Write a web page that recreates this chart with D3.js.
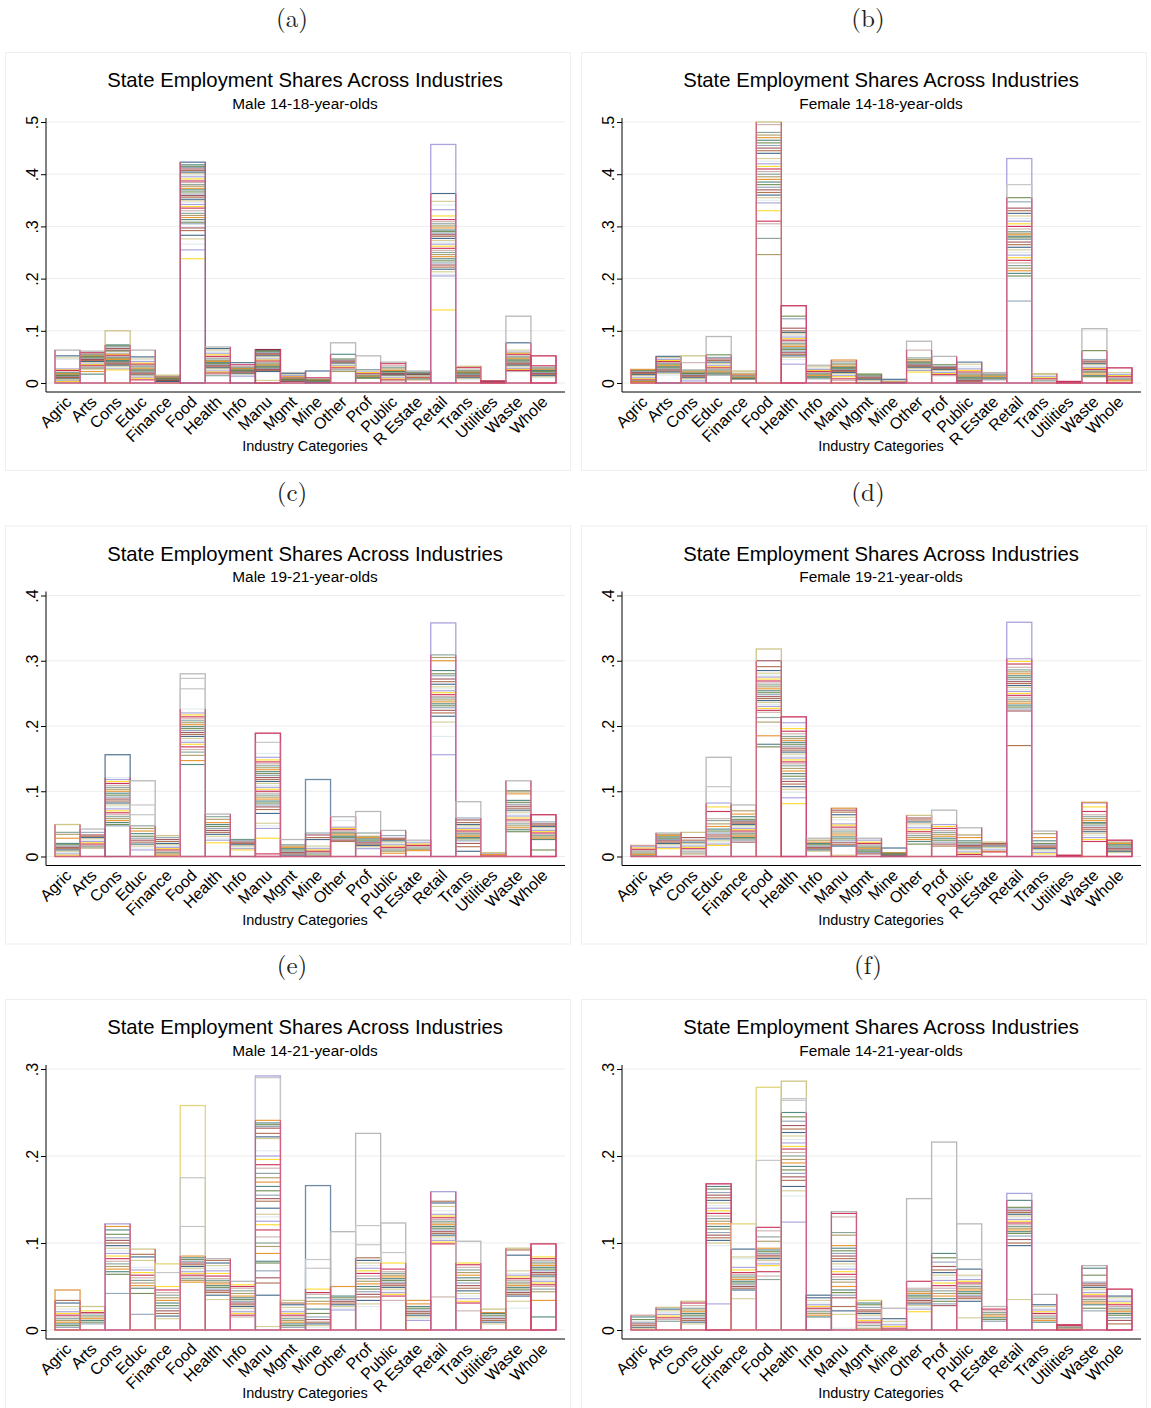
<!DOCTYPE html>
<html><head><meta charset="utf-8">
<script src="https://cdn.jsdelivr.net/npm/d3@7"></script>
<style>body{margin:0;background:#fff}</style>
</head><body>
<svg id="fig" width="1151" height="1408"></svg>
<script>
// Industry categories on the x axis
const categories = ["Agric","Arts","Cons","Educ","Finance","Food","Health","Info","Manu","Mgmt",
  "Mine","Other","Prof","Public","R Estate","Retail","Trans","Utilities","Waste","Whole"];

// State employment shares, in thousandths, one list per industry (one entry per state)
const male1418 = [
  [63,52,48,45,27,25,24,21,20,18,17,15,14,12,11,10,8,7,5,4,3],
  [61,58,56,55,53,51,50,48,46,45,43,41,39,38,36,35,33,31,29,27,22,17],
  [100,73,71,69,66,63,61,60,58,56,55,53,51,49,47,45,43,41,40,38,36,34,32,30,27,25],
  [63,50,46,44,41,38,36,34,32,29,27,25,23,21,19,17,15,14,13,11,9,6],
  [15,13,12,11,10,9,8,7,6,5,4,3],
  [423,418,415,413,410,407,404,401,398,395,391,387,384,380,377,373,370,366,362,359,356,352,349,346,342,338,335,330,325,321,317,313,308,305,297,292,283,276,266,255,238],
  [69,66,63,60,57,54,51,48,46,43,41,39,37,35,33,31,29,27,25,23,21,19,17,14],
  [39,35,32,30,28,27,25,24,22,21,19,18,17,15,13],
  [64,62,60,58,56,54,52,50,48,46,44,42,40,38,36,34,32,30,28,26,24,22,5],
  [20,18,16,15,14,12,11,10,9,8,7,6,5,4,3],
  [23,10,8,7,6,5,4,3,2,1],
  [77,55,46,44,42,40,38,36,35,33,31,29,27,25,22],
  [52,25,24,23,21,20,18,17,15,14,12,11,9],
  [40,37,33,30,27,24,22,21,19,18,16,15,13,12,10,8,6,4],
  [23,21,19,18,17,16,15,14,13,12,11,10,9,8,6],
  [457,363,348,341,332,320,313,309,305,301,297,293,290,287,284,281,277,273,270,266,262,258,254,250,246,242,238,234,230,226,222,218,213,208,205,140],
  [32,30,27,24,22,20,19,17,16,14,12,10,8,6],
  [4,3,3,2,2,1],
  [128,77,63,61,59,57,55,52,50,48,46,44,42,40,38,36,34,32,30,28,26,24,22],
  [52,33,31,29,27,25,24,22,20,18,16,14,12,10]
];
const female1418 = [
  [26,24,22,20,18,16,14,12,10,8,6,5,4,3,2],
  [51,49,47,45,43,41,39,37,35,33,31,29,27,25,23,21,18,15],
  [52,39,25,23,21,19,18,16,14,12,10,8,6,4],
  [89,54,49,46,43,40,37,35,33,31,29,27,25,23,21,19,17,15],
  [23,21,19,18,17,15,14,13,11,10,9,8,7],
  [500,495,480,475,470,465,460,455,450,445,440,430,425,420,415,410,405,400,395,390,385,380,375,370,365,360,355,350,345,330,310,305,277,246],
  [148,128,123,105,100,97,94,91,88,85,82,79,76,73,70,67,64,61,58,55,52,49,45,36],
  [34,31,28,26,24,22,20,18,16,14,12,10,8],
  [44,41,38,35,32,30,28,26,24,22,20,18,16,14,12,8,5],
  [17,15,13,11,9,7,5,3],
  [7,5,4,3,2,1],
  [80,63,48,45,42,40,38,36,34,32,30,28,26,24,21],
  [51,35,32,30,28,26,24,22,20,18,16,14],
  [40,36,31,27,24,21,19,17,15,13,11,9,7,5,3],
  [20,18,16,14,12,10,8,6],
  [430,380,355,347,335,330,325,320,315,310,305,300,295,290,287,284,281,278,275,270,265,260,255,250,245,240,235,230,225,220,215,210,205,157],
  [18,16,14,12,10,8,6,4],
  [3,2,1],
  [104,62,45,42,40,37,35,33,30,28,26,24,22,20,17,14,12],
  [29,20,18,16,14,12,10,8,6,4]
];
const male1921 = [
  [49,37,34,28,20,18,16,14,12,10,8,6,4,2],
  [42,37,33,31,29,27,25,23,21,19,17,15,13],
  [156,121,118,115,112,109,106,103,100,97,94,91,88,85,82,79,76,73,70,67,64,61,58,55,52,49,47],
  [116,79,64,47,43,39,35,31,28,25,22,19,16,13,10],
  [32,29,26,23,20,18,16,14,12,10,8,6,4,2],
  [280,273,257,226,220,217,214,211,208,205,202,199,196,193,190,187,184,181,178,175,172,168,164,160,155,147,141],
  [65,61,57,52,49,46,43,40,37,34,31,28,25,21],
  [26,24,22,20,18,16,14,12,10],
  [189,175,158,152,148,145,142,139,136,133,130,127,124,121,118,115,112,109,106,103,100,97,94,91,88,85,82,79,76,72,66,51,47,43,28,4],
  [26,18,16,14,12,10,8,6,4,2],
  [118,36,33,29,26,16,14,12,10,8,6,4,2],
  [61,55,45,43,41,39,37,35,33,31,29,27,25,23],
  [69,36,31,29,27,25,23,21,19,17,15,13,12],
  [40,32,28,26,24,22,20,18,16,14,12,10,8,5],
  [25,23,21,19,17,15,13,11,9],
  [358,309,305,300,285,280,277,272,268,264,260,257,254,251,248,245,243,240,237,234,231,228,224,220,215,206,184,156],
  [84,59,56,52,49,47,45,43,41,39,37,35,33,31,29,27,24,20,15,8],
  [6,5,4,3,2],
  [116,101,99,96,86,83,80,77,74,71,68,65,62,59,56,53,50,47,44,41,38],
  [64,53,50,48,46,44,42,40,38,36,34,32,30,28,26,10]
];
const female1921 = [
  [17,15,13,11,9,7,5,3,1],
  [36,34,32,30,28,26,24,22,20,18,16,14,12],
  [37,29,25,22,20,18,16,14,12,10,7,4],
  [152,107,82,76,69,58,55,50,46,42,39,36,33,30,27,24,21,19,17],
  [79,70,65,61,57,55,53,51,49,47,45,43,41,39,37,35,33,31,29,27,25,22],
  [318,300,291,285,281,278,275,272,269,266,263,260,257,254,251,248,245,242,239,236,233,230,227,224,221,213,206,185,172,168],
  [214,205,196,192,188,184,181,178,175,172,169,166,163,160,157,154,151,148,145,142,139,135,131,127,123,119,115,111,107,103,98,90,81],
  [28,25,22,20,18,16,14,12,10,8],
  [74,71,68,64,60,56,50,48,45,42,39,36,33,30,27,24,21,18,16,2],
  [28,25,22,20,18,16,14,12,10,8,6,4],
  [13,6,5,4,3,2,1],
  [63,59,56,53,50,47,44,41,38,35,32,29,26,23,19],
  [71,49,46,43,40,37,34,31,28,25,22,19,16],
  [44,33,29,24,21,19,17,15,13,11,9,7,5,3],
  [22,20,18,16,14,12,10,8,7],
  [359,303,299,295,290,286,283,280,277,274,271,268,265,262,259,256,253,250,247,244,241,238,235,232,229,226,223,170],
  [39,35,29,24,20,18,16,14,12,10,8,6,4],
  [2,1],
  [83,82,76,69,64,61,58,55,52,50,47,44,41,38,35,32,29,26,23],
  [25,22,20,18,16,14,12,10,8,6]
];
const male1421 = [
  [46,34,31,27,24,21,19,17,15,13,11,9,7,5,3],
  [27,22,20,19,17,15,13,11,9,7],
  [122,119,115,110,106,103,100,97,94,91,88,85,82,79,76,73,70,67,64,42],
  [93,87,84,80,72,69,66,63,60,57,54,51,48,42,18],
  [76,66,50,46,43,40,37,34,31,28,25,22,19,16,13],
  [258,175,119,85,83,81,79,77,75,73,71,69,67,65,63,61,59,57,55],
  [82,80,77,74,71,68,65,62,59,57,55,53,51,49,47,45,43,40,35],
  [56,52,50,48,45,42,39,37,35,33,31,29,27,25,23,21,19,17,15],
  [292,290,241,238,236,234,232,226,222,220,206,200,196,190,186,180,175,170,165,160,155,151,148,140,133,130,125,121,115,107,100,96,88,79,77,68,60,54,40,4],
  [34,31,29,26,23,21,19,17,15,13,11,9,7,5,3],
  [166,81,71,47,43,41,37,33,30,24,19,15,12,9,7,5,3],
  [113,50,39,37,35,33,31,29,27,25,23],
  [226,120,98,83,80,77,74,71,68,65,62,59,56,53,50,47,44,41,38,34,30,27],
  [123,89,77,70,67,65,63,61,59,57,55,53,51,49,47,45,43,41,39,34],
  [34,30,27,25,23,21,19,17,15,13,11],
  [159,148,146,142,137,133,131,129,127,125,123,121,119,117,115,113,111,109,107,105,103,101,99,38],
  [102,77,75,72,69,66,63,60,57,54,51,48,45,42,39,36,33,31,22],
  [24,20,19,17,15,13,11,9,7],
  [94,92,86,68,65,63,61,59,57,55,53,51,49,47,45,43,41,39,33,25],
  [99,84,82,80,78,76,74,72,70,68,66,64,62,60,58,56,54,52,50,47,44,34,15]
];
const female1421 = [
  [17,15,12,9,7,5,3,2],
  [26,24,22,20,18,16,14,12,10],
  [33,31,28,25,23,21,19,17,15,13,11,9,7],
  [168,165,162,158,155,152,149,146,143,140,137,134,131,128,125,122,119,116,112,109,106,103,100,97,30],
  [122,93,84,82,72,69,66,64,62,60,58,56,54,52,50,48,46,36],
  [279,195,118,114,107,102,94,92,90,88,86,84,82,80,78,76,74,67,62,58],
  [286,266,264,250,245,240,235,231,227,223,219,215,211,208,204,200,196,192,188,184,180,176,172,165,160,154,124],
  [40,37,34,31,29,27,25,23,21,19,17,15],
  [136,134,130,112,109,97,94,91,88,85,82,79,76,73,70,67,64,61,58,55,50,46,43,40,37,27,22,18,2],
  [34,31,29,26,23,21,19,17,15,13,11,9,7,5,2],
  [25,13,10,8,6,4,2,1],
  [151,56,48,46,44,42,40,38,36,34,32,30,28,26,24,21],
  [216,88,83,78,73,69,66,63,60,57,54,51,48,45,42,39,36,33,30,28],
  [122,81,70,63,61,58,56,54,52,50,48,46,44,42,40,38,36,33,14],
  [27,24,22,20,18,16,14,12,10],
  [157,149,141,139,137,135,133,131,129,127,125,123,121,119,117,115,113,111,108,104,100,97,35],
  [41,29,27,25,23,21,19,17,15,13,11,9],
  [6,5,4,3,2],
  [74,71,63,55,53,51,49,47,45,43,41,39,37,35,33,31,29,25,22],
  [47,39,37,35,33,31,29,27,25,23,21,19,17,14,11,7]
];

// Outline colour of the tallest state in each industry
const tallestA = ["g","g","k","g","k","n","g","n","m","g","n","g","g","g","g","l","k","c","g","c"];
const tallestB = ["o","n","k","g","k","k","c","g","o","f","n","g","g","e","g","l","k","c","g","c"];
const tallestC = ["k","g","n","g","k","g","g","t","c","g","e","g","g","g","g","l","g","k","g","c"];
const tallestD = ["r","g","k","g","g","k","c","g","o","g","n","k","g","g","k","l","g","c","o","c"];
const tallestE = ["o","k","l","k","y","y","g","g","l","k","e","g","g","g","o","l","g","k","k","c"];
const tallestF = ["r","k","k","c","y","y","k","n","g","y","g","g","g","g","g","l","g","c","g","c"];

const yTicksAB = [0, .1, .2, .3, .4, .5];
const yTicksCD = [0, .1, .2, .3, .4];
const yTicksEF = [0, .1, .2, .3];

const panels = [
  {tag: "(a)", sub: "Male 14-18-year-olds",   data: male1418,   tall: tallestA, ticks: yTicksAB},
  {tag: "(b)", sub: "Female 14-18-year-olds", data: female1418, tall: tallestB, ticks: yTicksAB},
  {tag: "(c)", sub: "Male 19-21-year-olds",   data: male1921,   tall: tallestC, ticks: yTicksCD},
  {tag: "(d)", sub: "Female 19-21-year-olds", data: female1921, tall: tallestD, ticks: yTicksCD},
  {tag: "(e)", sub: "Male 14-21-year-olds",   data: male1421,   tall: tallestE, ticks: yTicksEF},
  {tag: "(f)", sub: "Female 14-21-year-olds", data: female1421, tall: tallestF, ticks: yTicksEF}
];

// Stata s2color-like palette for the state outlines
const statePalette = ["#1a476f","#90353b","#55752f","#e37e00","#6e8e84","#c10534","#938dd2","#cac27e",
  "#a0522d","#7b92a8","#2d6d66","#9c8847","#bfa19c","#ffd200","#d9e6eb"];
const tallColor = {g:"#b8b8b8", l:"#a9a4dc", k:"#cdc58a", n:"#5e7f9a", c:"#c8325a", o:"#df9a4a",
  e:"#6f8aa6", t:"#6e9a8e", m:"#8e2e3e", f:"#6f8f4f", r:"#d4a39c", y:"#e2d67a"};
const outlierColor = "#c6c6c6";
const sideColor = "#cf4f77";

const svg = d3.select("#fig");
svg.append("rect").attr("width", 1151).attr("height", 1408).attr("fill", "#fff");

const sans = "'Liberation Sans', Arial, Helvetica, sans-serif";

panels.forEach((p, pi) => {
  const col = pi % 2, row = Math.floor(pi / 2);
  const g = svg.append("g").attr("transform", `translate(${col * 576},${row * 473.5})`);

  g.append("text").attr("x", 292).attr("y", 27).attr("text-anchor", "middle")
    .attr("font-family", "'Latin Modern Roman','CMU Serif','DejaVu Serif',serif")
    .attr("font-size", 25).attr("fill", "#222").text(p.tag);

  g.append("rect").attr("x", 5.5).attr("y", 52.5).attr("width", 565).attr("height", 418)
    .attr("fill", "#fff").attr("stroke", "#efefef");

  g.append("text").attr("x", 305).attr("y", 87).attr("text-anchor", "middle")
    .attr("font-family", sans).attr("font-size", 20.3).attr("fill", "#000")
    .text("State Employment Shares Across Industries");
  g.append("text").attr("x", 305).attr("y", 108.5).attr("text-anchor", "middle")
    .attr("font-family", sans).attr("font-size", 15.4).attr("fill", "#000").text(p.sub);

  const ymax = p.ticks[p.ticks.length - 1];
  const y = d3.scaleLinear().domain([0, ymax]).range([383, 122]);
  const x = d3.scaleBand().domain(categories).range([55, 556]).padding(0);

  // grid lines
  g.append("g").selectAll("line").data(p.ticks).join("line")
    .attr("x1", 46).attr("x2", 565).attr("y1", d => y(d)).attr("y2", d => y(d))
    .attr("stroke", "#ececec").attr("stroke-width", 1);

  const fmt = d => d === 0 ? "0" : d3.format(".1f")(d).replace(/^0/, "");

  // y axis with rotated labels
  const yAxis = d3.axisLeft(y).tickValues(p.ticks).tickFormat(fmt).tickSize(5).tickSizeOuter(0);
  const ya = g.append("g").attr("transform", "translate(46,0)").call(yAxis);
  ya.select(".domain").attr("d", `M0,${y(ymax) - 4}V392`).attr("stroke", "#000");
  ya.selectAll(".tick line").attr("stroke", "#000");
  ya.selectAll(".tick text")
    .attr("font-family", sans).attr("font-size", 16).attr("fill", "#000")
    .attr("transform", "rotate(-90)").attr("x", 0).attr("y", -8).attr("dy", 0)
    .attr("text-anchor", "middle");

  // x axis with slanted category labels
  const xa = g.append("g").attr("transform", "translate(0,392)")
    .call(d3.axisBottom(x).tickSize(0).tickSizeOuter(0));
  xa.select(".domain").attr("d", "M46,0H565").attr("stroke", "#000");
  xa.selectAll(".tick text")
    .attr("font-family", sans).attr("font-size", 16).attr("fill", "#000")
    .attr("text-anchor", "end").attr("dy", 0).attr("y", 0).attr("x", 0)
    .attr("transform", "translate(5,11) rotate(-45)");

  g.append("text").attr("x", 305).attr("y", 451).attr("text-anchor", "middle")
    .attr("font-family", sans).attr("font-size", 14.5).attr("fill", "#000").text("Industry Categories");

  const thr = ymax * 0.048;
  const bars = g.append("g");
  categories.forEach((cat, ci) => {
    const vals = p.data[ci].map(v => v / 1000);
    const x0 = x(cat), x1 = x0 + x.bandwidth();
    const sorted = vals.slice().sort((a, b) => b - a);
    const top = sorted[0];
    const n = sorted.length;

    // top of the dense block of states: first value with two close neighbours below it
    let k = 0;
    while (k < n - 2 && sorted[k] - sorted[k + 2] > thr) k++;
    if (k >= n - 2) k = Math.min(1, n - 1);
    const blockTop = sorted[k];

    // states standing clear above the block keep full outlines
    const outliers = sorted.slice(1, k);
    const inner = vals.filter(v => v <= blockTop && v !== top);

    bars.append("g").selectAll("line").data(inner).join("line")
      .attr("x1", x0).attr("x2", x1)
      .attr("y1", d => y(d)).attr("y2", d => y(d))
      .attr("stroke", (d, j) => statePalette[(j * 7 + ci * 5 + pi * 2) % statePalette.length])
      .attr("stroke-opacity", 0.8).attr("stroke-width", 1.15);

    bars.append("rect").attr("x", x0).attr("y", y(top)).attr("width", x1 - x0).attr("height", y(0) - y(top))
      .attr("fill", "none").attr("stroke", tallColor[p.tall[ci]]).attr("stroke-width", 1.3);

    bars.append("g").selectAll("rect").data(outliers).join("rect")
      .attr("x", x0).attr("y", d => y(d)).attr("width", x1 - x0).attr("height", d => y(0) - y(d))
      .attr("fill", "none").attr("stroke", outlierColor).attr("stroke-width", 1.2);

    // shared bar sides and base
    const sideTop = p.tall[ci] === "c" ? top : blockTop;
    bars.append("path")
      .attr("d", `M${x0},${y(sideTop)}V${y(0)}H${x1}V${y(sideTop)}`)
      .attr("fill", "none").attr("stroke", sideColor).attr("stroke-opacity", 0.85).attr("stroke-width", 1.3);
  });
});
</script>
</body></html>
